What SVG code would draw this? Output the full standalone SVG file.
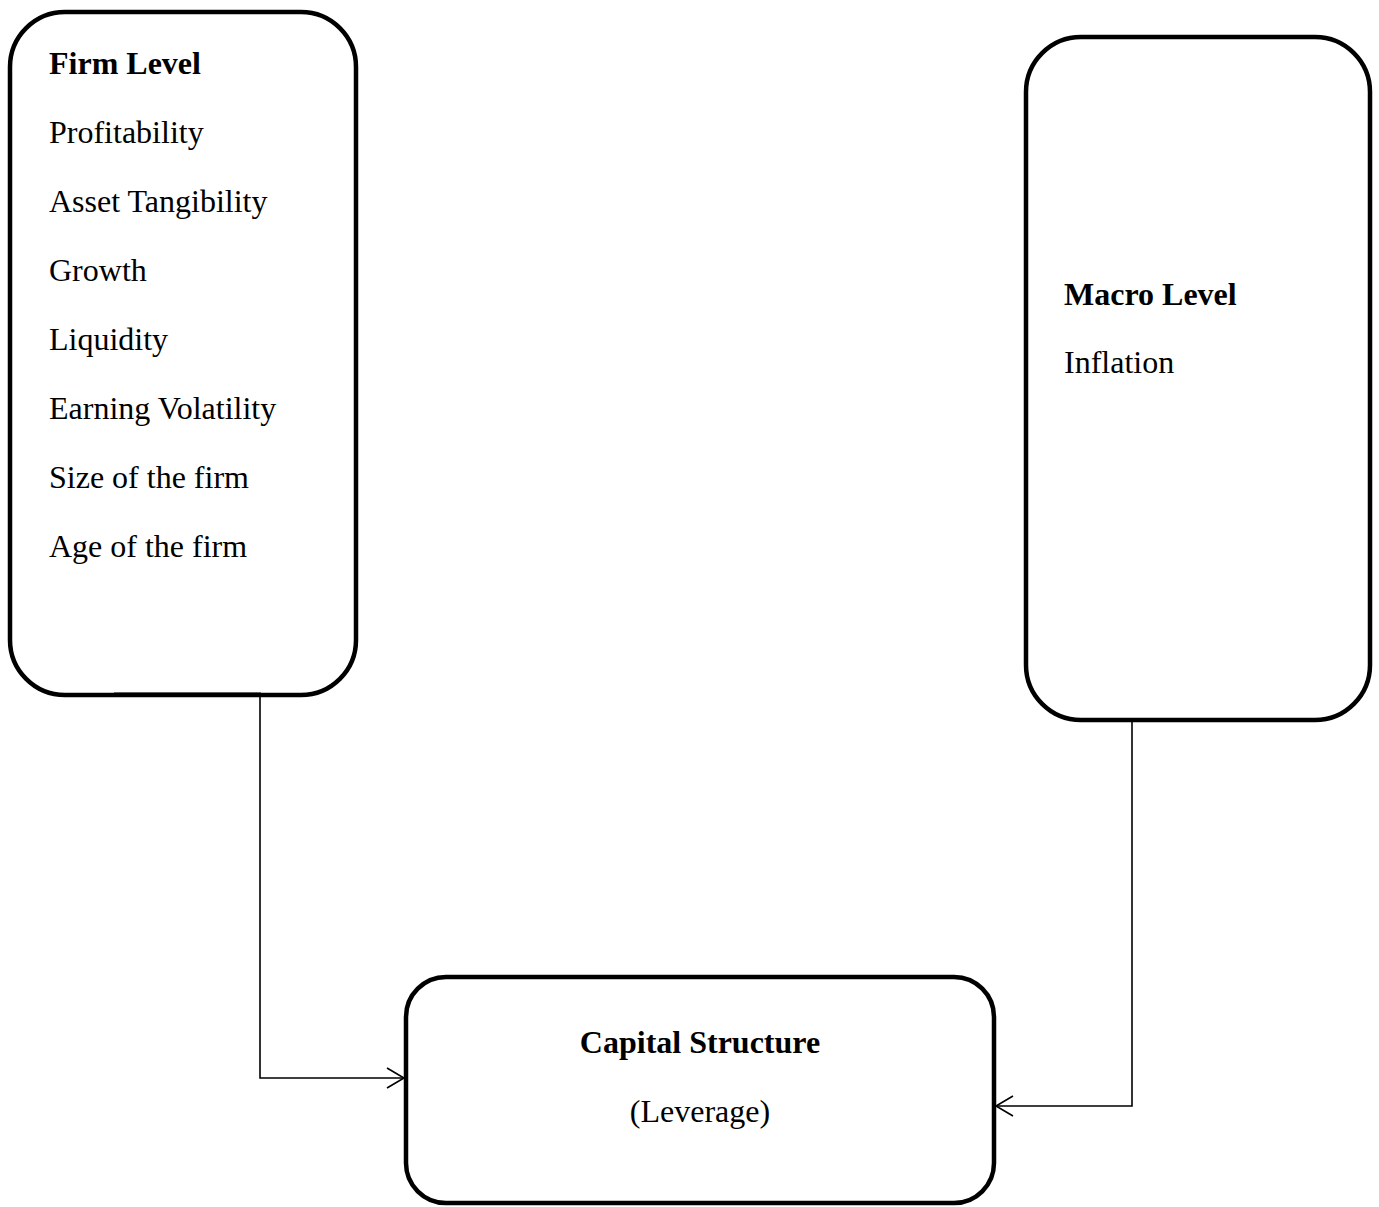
<svg xmlns="http://www.w3.org/2000/svg" width="1379" height="1207" viewBox="0 0 1379 1207">
<style>
.box{fill:#fff;stroke:#000;stroke-width:4.5}
.t{font-family:"Liberation Serif","Times New Roman",serif;font-size:32px;fill:#000}
.b{font-weight:bold}
.c{fill:none;stroke:#000;stroke-width:1.6}
</style>
<rect width="1379" height="1207" fill="#fff"/>
<g id="firm">
<rect class="box" x="10" y="12" width="346" height="683" rx="55" ry="55"/>
<line x1="114" y1="694" x2="261" y2="694" stroke="#000" stroke-width="3"/>
<text class="t b" x="49" y="74">Firm Level</text>
<text class="t" x="49" y="143">Profitability</text>
<text class="t" x="49" y="212">Asset Tangibility</text>
<text class="t" x="49" y="281">Growth</text>
<text class="t" x="49" y="350">Liquidity</text>
<text class="t" x="49" y="419">Earning Volatility</text>
<text class="t" x="49" y="488">Size of the firm</text>
<text class="t" x="49" y="557">Age of the firm</text>
</g>
<g id="macro">
<rect class="box" x="1026" y="37" width="344" height="683" rx="55" ry="55"/>
<line x1="1133" y1="720" x2="1270" y2="720" stroke="#000" stroke-width="3"/>
<text class="t b" x="1064" y="305">Macro Level</text>
<text class="t" x="1064" y="373">Inflation</text>
</g>
<g id="capital">
<rect class="box" x="406" y="977" width="588" height="226" rx="40" ry="40"/>
<text class="t b" x="700" y="1053" text-anchor="middle">Capital Structure</text>
<text class="t" x="700" y="1122" text-anchor="middle">(Leverage)</text>
</g>
<g id="connectors">
<polyline class="c" points="260,697 260,1078 404,1078"/>
<polyline class="c" points="387,1068 404,1078 387,1088"/>
<polyline class="c" points="1132,722 1132,1106 996,1106"/>
<polyline class="c" points="1013,1096 996,1106 1013,1116"/>
</g>
</svg>
